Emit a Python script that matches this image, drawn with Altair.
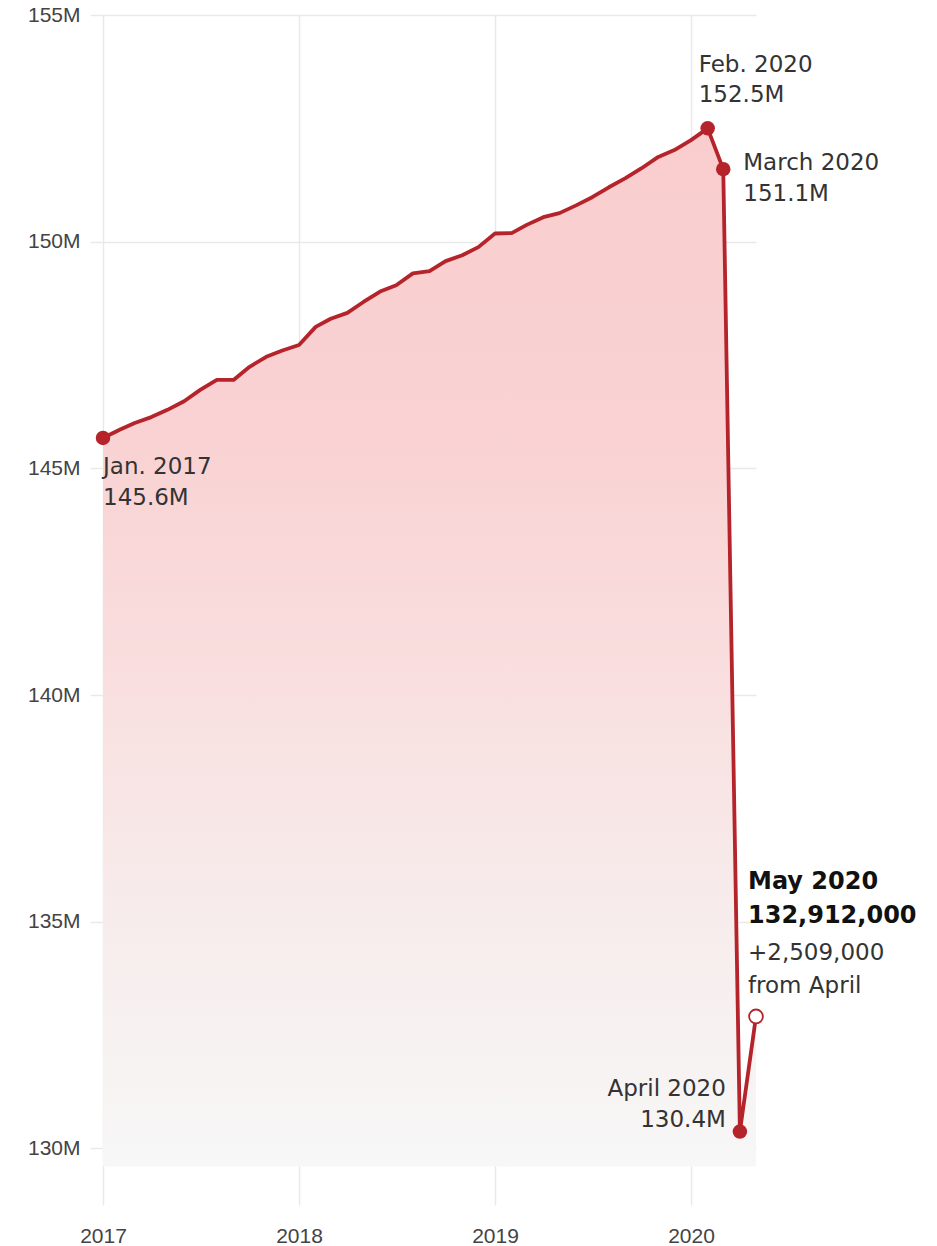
import altair as alt
import pandas as pd

# Monthly total nonfarm employment, millions (Jan 2017 - May 2020)
months = pd.date_range("2017-01-01", "2020-05-01", freq="MS").strftime("%Y-%m-%d").tolist()
jobs = [
    145.67, 145.85, 146.00, 146.13, 146.29, 146.48, 146.73, 146.95, 146.95, 147.24, 147.46, 147.60,
    147.72, 148.12, 148.30, 148.43, 148.67, 148.90, 149.04, 149.30, 149.35, 149.57, 149.70, 149.88,
    150.18, 150.19, 150.37, 150.54, 150.63, 150.80, 150.98, 151.20, 151.40, 151.62, 151.87, 152.02,
    152.24, 152.50, 151.60, 130.37, 132.91,
]
y_ticks = [130, 135, 140, 145, 150, 155]
year_ticks = ["2017", "2018", "2019", "2020"]

filled_dates = ["2017-01-01", "2020-02-01", "2020-03-01", "2020-04-01"]
open_dates = ["2020-05-01"]

label_dates = ["2017-01-01", "2020-02-01", "2020-03-01", "2020-04-01", "2020-05-01", "2020-05-01"]
label_texts = [
    "Jan. 2017\n145.6M",
    "Feb. 2020\n152.5M",
    "March 2020\n151.1M",
    "April 2020\n130.4M",
    "May 2020\n132,912,000",
    "+2,509,000\nfrom April",
]

lookup = dict(zip(months, jobs))
df = pd.DataFrame({"date": months, "jobs": jobs})
df_filled = pd.DataFrame({"date": filled_dates, "jobs": [lookup[d] for d in filled_dates]})
df_open = pd.DataFrame({"date": open_dates, "jobs": [lookup[d] for d in open_dates]})
lab = pd.DataFrame({"date": label_dates, "text": label_texts, "jobs": [lookup[d] for d in label_dates]})

RED = "#b5232b"
GRID = "#e9e9e9"

x = alt.X(
    "date:T",
    scale=alt.Scale(type="utc", domain=["2017-01-01", "2020-05-01"], nice=False),
    axis=alt.Axis(
        values=[alt.DateTime(year=int(y), month=1, date=1, utc=True) for y in year_ticks],
        format="%Y", formatType="time", title=None, domain=False, ticks=False, tickSize=0,
        labelPadding=20, labelFontSize=21, labelFont="Liberation Sans", labelColor="#444",
        labelBaseline="top", labelAlign="center", labelFlush=False,
        grid=True, gridColor=GRID, gridWidth=1.5,
    ),
)
y = alt.Y(
    "jobs:Q",
    scale=alt.Scale(domain=[128.75, 155], nice=False, zero=False),
    axis=alt.Axis(
        values=y_ticks, labelExpr="datum.value + 'M'", title=None, domain=False,
        ticks=True, tickSize=13, tickColor=GRID, tickWidth=1.5,
        labelPadding=10, labelFontSize=21, labelFont="Liberation Sans", labelColor="#444",
        labelBaseline="middle", labelFlush=False, grid=True, gridColor=GRID, gridWidth=1.5,
    ),
)

base = alt.Chart(df)

area = base.mark_area(
    color=alt.Gradient(
        gradient="linear",
        stops=[
            alt.GradientStop(color="#f9cdce", offset=0),
            alt.GradientStop(color="#f9d2d3", offset=0.3),
            alt.GradientStop(color="#f9e0e0", offset=0.55),
            alt.GradientStop(color="#f7eded", offset=0.78),
            alt.GradientStop(color="#f7f7f7", offset=1),
        ],
        x1=1, x2=1, y1=0, y2=1,
    ),
    opacity=1,
).encode(x=x, y=y, y2=alt.datum(129.6))

line = base.mark_line(color=RED, strokeWidth=3.8, strokeJoin="round").encode(x=x, y=y)

pts_filled = alt.Chart(df_filled).mark_point(
    filled=True, color=RED, size=210, opacity=1
).encode(x=x, y=y)

pts_open = alt.Chart(df_open).mark_point(
    filled=True, fill="white", stroke=RED, strokeWidth=1.8, size=190, opacity=1
).encode(x=x, y=y)


def label(i, align, dx, dy, size=23, weight="normal", color="#333", lh=31):
    return alt.Chart(lab.iloc[[i]]).mark_text(
        align=align, baseline="top", dx=dx, dy=dy, fontSize=size, fontWeight=weight,
        font="DejaVu Sans", color=color, lineBreak="\n", lineHeight=lh,
    ).encode(x=x, y=y, text="text:N")


labels = [
    label(0, "left", 0, 18),
    label(1, "left", -9, -74, lh=30),
    label(2, "left", 20, -17),
    label(3, "right", -14, -54),
    label(4, "left", -8, -146, size=24, weight="bold", color="#111", lh=34),
    label(5, "left", -8, -74, lh=33),
]

chart = alt.layer(area, line, pts_filled, pts_open, *labels).properties(
    width=653, height=1190,
    autosize=alt.AutoSizeParams(type="none"),
    padding={"left": 103, "top": 15, "right": 181, "bottom": 41},
    background="white",
).configure_view(stroke=None)

chart.save("out.html", embed_options={"renderer": "svg", "actions": False})
